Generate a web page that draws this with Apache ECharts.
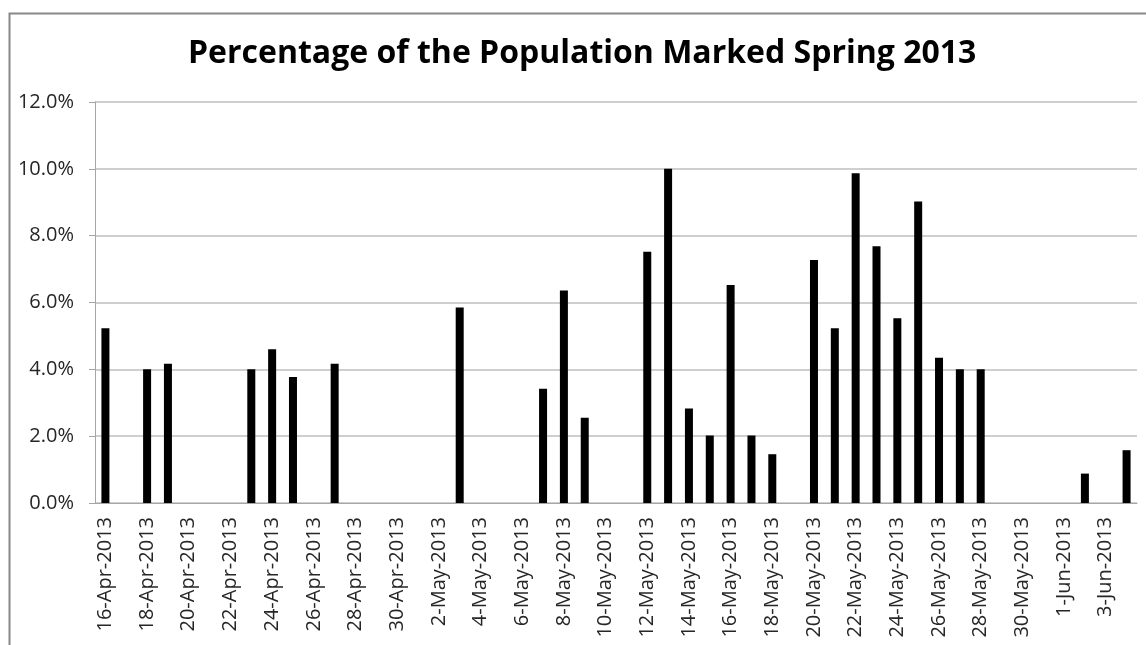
<!DOCTYPE html>
<html>
<head>
<meta charset="utf-8">
<title>Percentage of the Population Marked Spring 2013</title>
<script src="https://cdn.jsdelivr.net/npm/echarts@6/dist/echarts.min.js"></script>
<style>
body{padding:0;margin:0;background:#fff;}
#chartmain{width:1146px;height:645px;}
</style>
</head>
<body>
<div id="chartmain"></div>
<script type="text/javascript">
// one category per day, 16-Apr to 4-Jun
var days = [
  '16-Apr-2013','17-Apr-2013','18-Apr-2013','19-Apr-2013','20-Apr-2013',
  '21-Apr-2013','22-Apr-2013','23-Apr-2013','24-Apr-2013','25-Apr-2013',
  '26-Apr-2013','27-Apr-2013','28-Apr-2013','29-Apr-2013','30-Apr-2013',
  '1-May-2013','2-May-2013','3-May-2013','4-May-2013','5-May-2013',
  '6-May-2013','7-May-2013','8-May-2013','9-May-2013','10-May-2013',
  '11-May-2013','12-May-2013','13-May-2013','14-May-2013','15-May-2013',
  '16-May-2013','17-May-2013','18-May-2013','19-May-2013','20-May-2013',
  '21-May-2013','22-May-2013','23-May-2013','24-May-2013','25-May-2013',
  '26-May-2013','27-May-2013','28-May-2013','29-May-2013','30-May-2013',
  '31-May-2013','1-Jun-2013','2-Jun-2013','3-Jun-2013','4-Jun-2013'
];
// percent marked, null = no sampling that day
var pctMarked = [
  5.23, null, 4.0, 4.17, null,
  null, null, 4.0, 4.6, 3.77,
  null, 4.17, null, null, null,
  null, null, 5.85, null, null,
  null, 3.42, 6.36, 2.55, null,
  null, 7.52, 10.0, 2.83, 2.02,
  6.52, 2.02, 1.46, null, 7.27,
  5.23, 9.87, 7.68, 5.53, 9.02,
  4.35, 4.0, 4.0, null, null,
  null, null, 0.88, null, 1.58
];
var yTicks = [0, 2, 4, 6, 8, 10, 12];

var myChart = echarts.init(document.getElementById('chartmain'));
myChart.setOption({
  animation: false,
  title: {
    text: 'Percentage of the Population Marked Spring 2013',
    left: 183,
    top: 33,
    textStyle: {
      fontFamily: 'Open Sans',
      fontWeight: 'bold',
      fontSize: 32,
      color: '#000'
    }
  },
  graphic: [{
    type: 'rect',
    left: 7, top: 11,
    shape: {width: 1200, height: 700},
    style: {fill: 'none', stroke: '#888', lineWidth: 2},
    silent: true
  }],
  grid: {left: 95, right: 9, top: 102, bottom: 142},
  xAxis: {
    type: 'category',
    data: days,
    boundaryGap: true,
    axisLine: {lineStyle: {color: '#a6a6a6', width: 1}},
    axisTick: {interval: 1, length: 5, lineStyle: {color: '#a6a6a6'}},
    axisLabel: {
      interval: 1,
      rotate: 90,
      margin: 14,
      fontFamily: 'Open Sans',
      fontSize: 20,
      color: '#262626'
    }
  },
  yAxis: {
    type: 'value',
    min: yTicks[0],
    max: yTicks[yTicks.length - 1],
    interval: 2,
    axisLine: {show: true, lineStyle: {color: '#a6a6a6'}},
    axisTick: {show: true, length: 6, lineStyle: {color: '#a6a6a6'}},
    splitLine: {lineStyle: {color: '#bfbfbf', width: 1.5}},
    axisLabel: {
      margin: 21,
      fontFamily: 'Open Sans',
      fontSize: 20,
      color: '#262626',
      formatter: function (v) { return v.toFixed(1) + '%'; }
    }
  },
  series: [{
    name: 'Percentage Marked',
    type: 'bar',
    data: pctMarked,
    barWidth: 8,
    itemStyle: {color: '#000'}
  }]
});
</script>
</body>
</html>
